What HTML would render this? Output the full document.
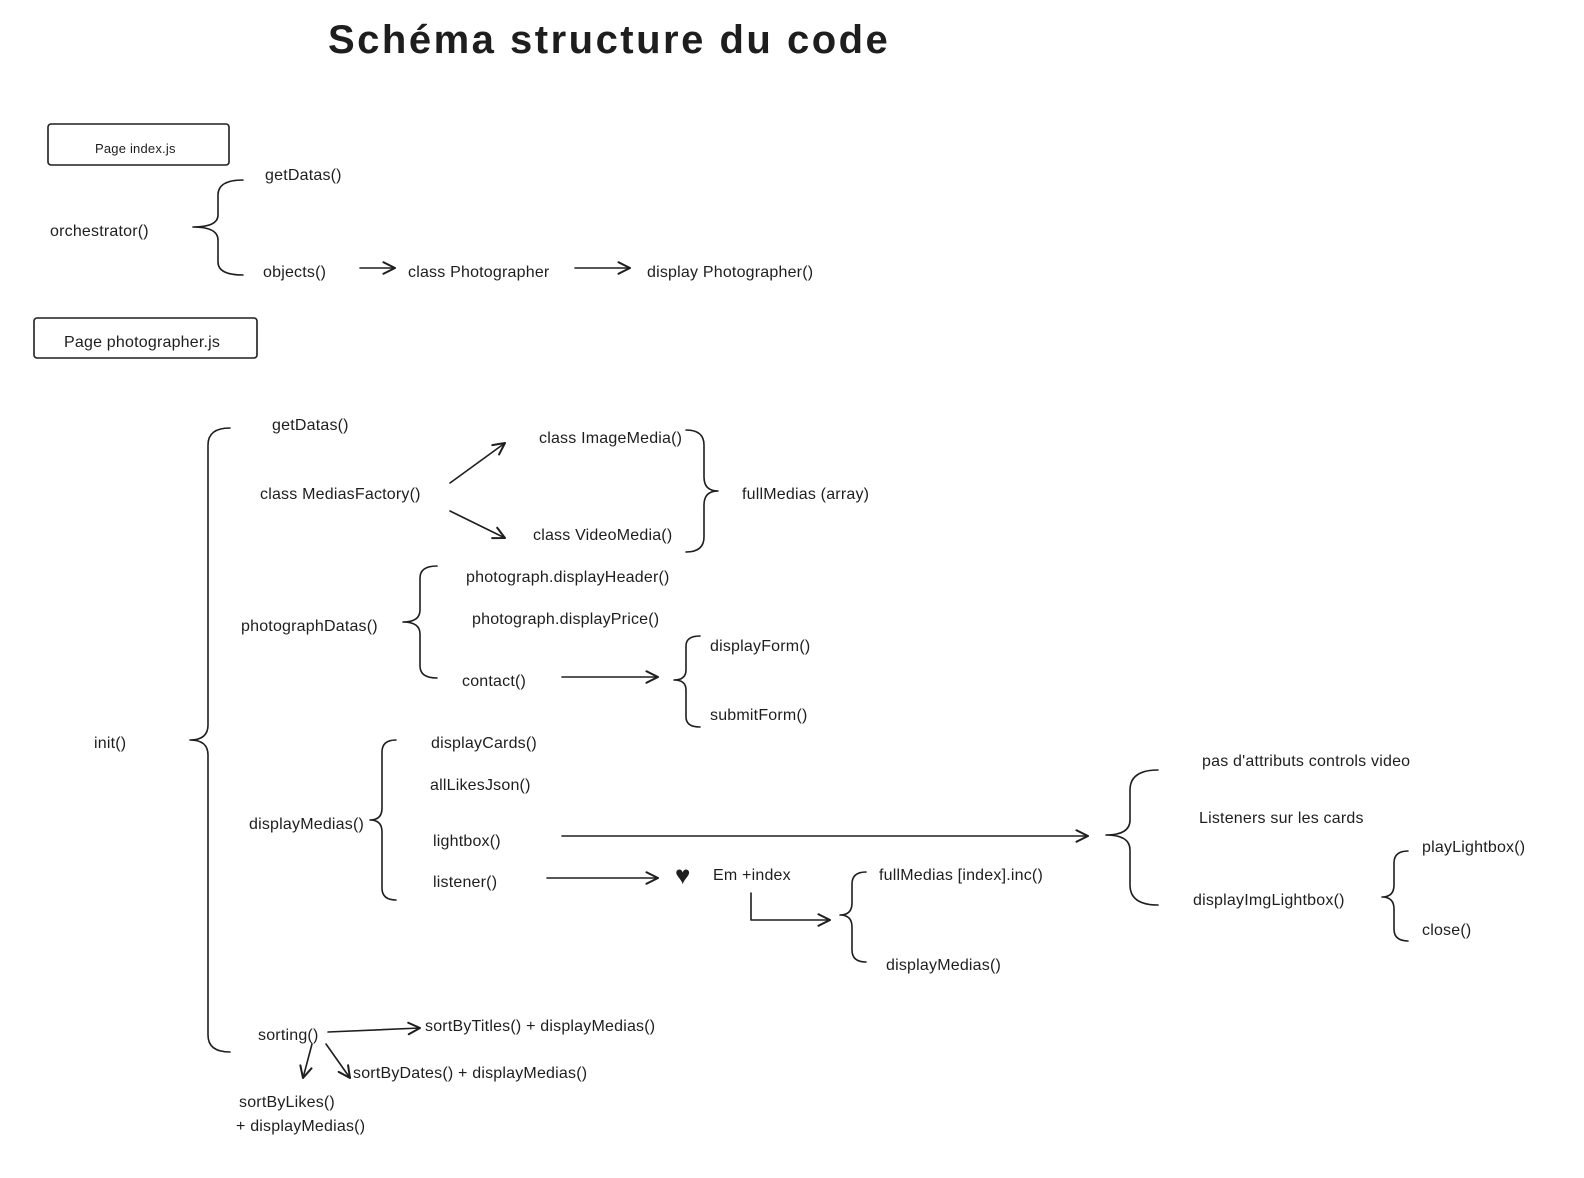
<!DOCTYPE html>
<html><head><meta charset="utf-8">
<style>
html,body{margin:0;padding:0;background:#fff;}
svg{display:block;}
text{font-family:"Liberation Sans",sans-serif;font-size:16px;fill:#1e1e1e;letter-spacing:0.2px;}
.t{font-size:40px;font-weight:bold;}
path,line,rect{fill:none;stroke:#1e1e1e;stroke-width:1.6;stroke-linecap:round;stroke-linejoin:round;}
</style></head><body>
<svg width="1584" height="1178" viewBox="0 0 1584 1178" xmlns="http://www.w3.org/2000/svg">
<defs>
<marker id="a" viewBox="0 0 10 10" refX="9" refY="5" markerWidth="9" markerHeight="9" orient="auto-start-reverse">
<path d="M1,1 L9,5 L1,9" style="stroke:#1e1e1e;stroke-width:1.4;fill:none"/>
</marker>
</defs>
<text class="t" x="328" y="53" textLength="560" lengthAdjust="spacing">Schéma structure du code</text>

<rect x="48" y="124" width="181" height="41" rx="3"/>
<text x="95" y="153" style="font-size:13px">Page index.js</text>
<rect x="34" y="318" width="223" height="40" rx="3"/>
<text x="64" y="347">Page photographer.js</text>

<text x="50" y="236">orchestrator()</text>
<text x="265" y="180">getDatas()</text>
<text x="263" y="277">objects()</text>
<text x="408" y="277">class Photographer</text>
<text x="647" y="277">display Photographer()</text>

<text x="94" y="748">init()</text>
<text x="272" y="430">getDatas()</text>
<text x="260" y="499">class MediasFactory()</text>
<text x="539" y="443">class ImageMedia()</text>
<text x="533" y="540">class VideoMedia()</text>
<text x="742" y="499">fullMedias (array)</text>
<text x="241" y="631">photographDatas()</text>
<text x="466" y="582">photograph.displayHeader()</text>
<text x="472" y="624">photograph.displayPrice()</text>
<text x="462" y="686">contact()</text>
<text x="710" y="651">displayForm()</text>
<text x="710" y="720">submitForm()</text>
<text x="249" y="829">displayMedias()</text>
<text x="431" y="748">displayCards()</text>
<text x="430" y="790">allLikesJson()</text>
<text x="433" y="846">lightbox()</text>
<text x="433" y="887">listener()</text>
<text x="713" y="880">Em +index</text>
<text x="879" y="880">fullMedias [index].inc()</text>
<text x="886" y="970">displayMedias()</text>
<text x="1202" y="766">pas d'attributs controls video</text>
<text x="1199" y="823">Listeners sur les  cards</text>
<text x="1193" y="905">displayImgLightbox()</text>
<text x="1422" y="852">playLightbox()</text>
<text x="1422" y="935">close()</text>
<text x="258" y="1040">sorting()</text>
<text x="425" y="1031">sortByTitles()   + displayMedias()</text>
<text x="353" y="1078">sortByDates()  + displayMedias()</text>
<text x="239" y="1107">sortByLikes()</text>
<text x="236" y="1131">+ displayMedias()</text>

<path d="M243,180 Q218,180 218,195 L218,215 Q218,227 193,227 Q218,227 218,240 L218,262 Q218,275 243,275"/>
<path d="M230,428 Q208,428 208,445 L208,725 Q208,740 190,740 Q208,740 208,755 L208,1035 Q208,1052 230,1052"/>
<path d="M437,566 Q420,566 420,578 L420,610 Q420,622 403,622 Q420,622 420,634 L420,666 Q420,678 437,678"/>
<path d="M700,636 Q686,636 686,646 L686,670 Q686,680 674,680 Q686,680 686,690 L686,717 Q686,727 700,727"/>
<path d="M396,740 Q382,740 382,752 L382,808 Q382,820 370,820 Q382,820 382,832 L382,888 Q382,900 396,900"/>
<path d="M686,430 Q704,430 704,445 L704,477 Q704,491 718,491 Q704,491 704,505 L704,537 Q704,552 686,552"/>
<path d="M1158,770 Q1130,770 1130,790 L1130,820 Q1130,835 1106,835 Q1130,835 1130,850 L1130,885 Q1130,905 1158,905"/>
<path d="M1408,851 Q1394,851 1394,863 L1394,885 Q1394,897 1382,897 Q1394,897 1394,909 L1394,929 Q1394,941 1408,941"/>
<path d="M866,872 Q852,872 852,884 L852,903 Q852,915 840,915 Q852,915 852,927 L852,950 Q852,962 866,962"/>

<line x1="360" y1="268" x2="395" y2="268" marker-end="url(#a)"/>
<line x1="575" y1="268" x2="630" y2="268" marker-end="url(#a)"/>
<line x1="450" y1="483" x2="505" y2="443" marker-end="url(#a)"/>
<line x1="450" y1="511" x2="505" y2="538" marker-end="url(#a)"/>
<line x1="562" y1="677" x2="658" y2="677" marker-end="url(#a)"/>
<line x1="562" y1="836" x2="1088" y2="836" marker-end="url(#a)"/>
<line x1="547" y1="878" x2="658" y2="878" marker-end="url(#a)"/>
<path d="M751,893 L751,920 L830,920" marker-end="url(#a)"/>
<line x1="328" y1="1032" x2="420" y2="1028" marker-end="url(#a)"/>
<line x1="312" y1="1044" x2="303" y2="1078" marker-end="url(#a)"/>
<line x1="326" y1="1044" x2="350" y2="1078" marker-end="url(#a)"/>

<text x="675" y="884" style="font-size:26px">♥</text>
</svg>
</body></html>
